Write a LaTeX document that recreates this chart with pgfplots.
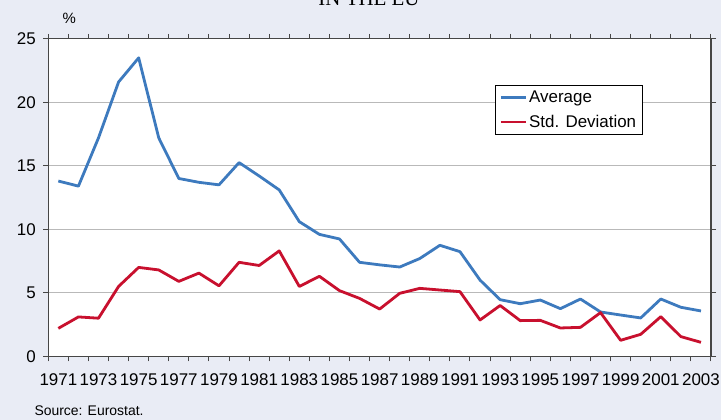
\documentclass[border=0pt]{standalone}
\usepackage{pgfplots}
\pgfplotsset{compat=1.18}
\usepackage{fontspec}
\setmainfont{Liberation Sans}
\newfontfamily\seriffont{Liberation Serif}
\definecolor{bgcol}{RGB}{233,236,245}
\definecolor{avgblue}{RGB}{61,122,190}
\definecolor{sdred}{RGB}{200,16,46}
\definecolor{axcol}{RGB}{70,70,70}
\definecolor{gridcol}{RGB}{185,185,185}
\begin{document}
\begin{tikzpicture}
\fill[bgcol] (0bp,0bp) rectangle (721bp,420bp);
\useasboundingbox (0bp,0bp) rectangle (721bp,420bp);
\node[anchor=base,font=\seriffont\fontsize{21}{24}\selectfont] at (369bp,414.5bp) {IN THE EU};
\node[anchor=base west,font=\fontsize{15}{18}\selectfont] at (59bp,396bp) {\%};
\node[anchor=base west,font=\fontsize{14}{16}\selectfont] at (31bp,5bp) {Source: Eurostat.};
\begin{axis}[
  at={(48.3bp,63.7bp)}, anchor=south west,
  width=662.7bp, height=317.5bp, scale only axis,
  xmin=1970.5, xmax=2003.5, ymin=0, ymax=25,
  axis background/.style={fill=white},
  axis line style={draw=axcol, line width=1.2bp},
  ytick={0,5,...,25},
  xtick={1971,1973,...,2003},
  minor xtick={1970.5,1971.5,...,2003.5},
  major x tick style={draw=none},
  tick align=outside,
  major tick length=5bp, minor tick length=5bp,
  tick style={draw=axcol, line width=1bp},
  ymajorgrids,
  major grid style={draw=gridcol, line width=1.2bp},
  /pgf/number format/.cd, 1000 sep={}, assume math mode=true,
  /pgfplots/.cd,
  ticklabel style={font=\fontsize{17}{19}\selectfont},
  xticklabel style={yshift=-9bp},
  yticklabel style={xshift=-4bp},
  legend style={at={(rel axis cs:0.674,0.856)}, anchor=north west,
    draw=black, line width=0.8bp, fill=white,
    font=\fontsize{17}{19}\selectfont, row sep=7bp,
    inner xsep=4bp, inner ysep=4bp, cells={anchor=west}},
  legend image code/.code={\draw[#1] (0bp,0bp) -- (25bp,0bp);},
]
\addplot[avgblue, line width=2.8bp, line join=round] coordinates {
(1971,13.8) (1972,13.4) (1973,17.2) (1974,21.6) (1975,23.5) (1976,17.2)
(1977,14.0) (1978,13.7) (1979,13.5) (1980,15.25) (1981,14.2) (1982,13.1)
(1983,10.6) (1984,9.6) (1985,9.24) (1986,7.4) (1987,7.2) (1988,7.03)
(1989,7.7) (1990,8.74) (1991,8.24) (1992,6.0) (1993,4.46) (1994,4.14)
(1995,4.43) (1996,3.75) (1997,4.51) (1998,3.49) (1999,3.25) (2000,3.02)
(2001,4.51) (2002,3.86) (2003,3.57)};
\addlegendentry{Average}
\addplot[sdred, line width=2.8bp, line join=round] coordinates {
(1971,2.2) (1972,3.1) (1973,3.0) (1974,5.5) (1975,7.0) (1976,6.8)
(1977,5.9) (1978,6.55) (1979,5.55) (1980,7.4) (1981,7.15) (1982,8.3)
(1983,5.5) (1984,6.3) (1985,5.17) (1986,4.56) (1987,3.72) (1988,4.96)
(1989,5.35) (1990,5.22) (1991,5.09) (1992,2.86) (1993,4.0) (1994,2.81)
(1995,2.83) (1996,2.23) (1997,2.28) (1998,3.44) (1999,1.26) (2000,1.73)
(2001,3.12) (2002,1.55) (2003,1.1)};
\addlegendentry{Std. Deviation}
\end{axis}
\end{tikzpicture}
\end{document}
